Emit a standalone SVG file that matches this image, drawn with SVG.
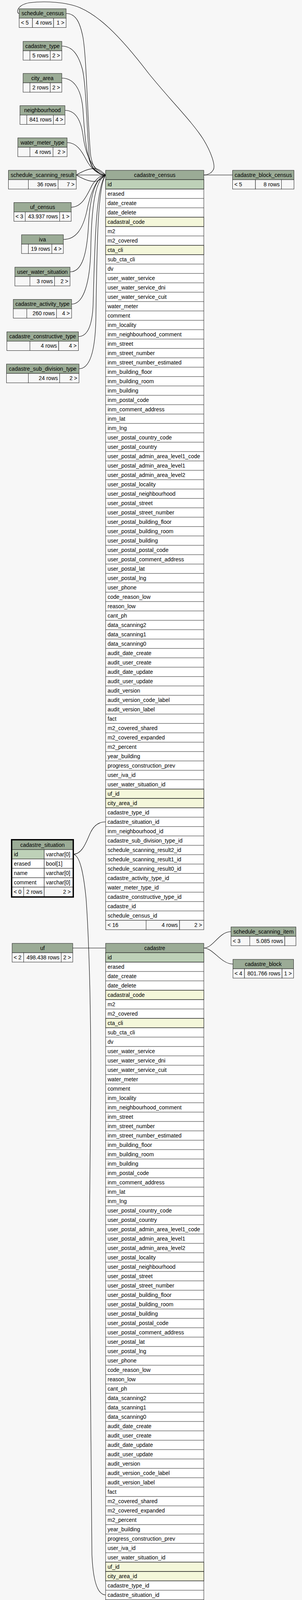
<svg xmlns="http://www.w3.org/2000/svg" width="772" height="4374" viewBox="0 0 772 4374">
<style>
.h{fill:#9bab96;stroke:#222;stroke-width:1}
.w{fill:#fff;stroke:#222;stroke-width:1}
.pk{fill:#bed1b8;stroke:#222;stroke-width:1}
.ix{fill:#f4f7da;stroke:#222;stroke-width:1}
.f{fill:#f7f7f7;stroke:#222;stroke-width:1}
.sep{fill:none;stroke:#222;stroke-width:1}
.edge{fill:none;stroke:#000;stroke-width:1.1}
text{font-family:"Liberation Sans",Arial,Helvetica,sans-serif;font-size:14px;fill:#000}
.c{text-anchor:middle}
.e{text-anchor:end}
.cap{font-family:"Liberation Serif","Times New Roman",serif;font-size:18px}
</style>
<rect x="0" y="0" width="772" height="4374" fill="#f7f7f7"/>

<g id="connectors">
<path class="edge" d="M49,34.5 C41,34 42,13 75,7 C115,2 170,5 205,20 C250,40 300,83 380,188 C440,262 490,310 520,357 C540,390 552,425 545,435 C540,444 530,448 521,448"/>
<path class="edge" d="M169,34.5 C195,34.5 205,60 212,95 C222,150 224,330 232,400 C238,435 255,448 270,448"/>
<path class="edge" d="M158,118 C185,118 200,140 210,175 C220,210 222,330 228,400 C232,432 252,448 270,448"/>
<path class="edge" d="M158,200 C190,200 208,230 212,280 C216,340 220,400 236,428 C246,442 258,448 270,448"/>
<path class="edge" d="M166,282.5 C195,282.5 207,310 212,345 C218,390 230,430 270,448"/>
<path class="edge" d="M171.5,365 C195,365 208,385 220,408 C233,433 252,448 270,448"/>
<path class="edge" d="M195,448 L270,448"/>
<path class="edge" d="M195,448 C215,436 232,430 246,432 C257,434 264,443 270,448"/>
<path class="edge" d="M195,448 C215,460 232,466 246,464 C257,462 264,453 270,448"/>
<path class="edge" d="M182,530.5 C210,530.5 222,500 235,475 C245,458 258,448 270,448"/>
<path class="edge" d="M162,613 C195,613 212,585 222,540 C230,500 245,455 270,448"/>
<path class="edge" d="M179,696 C210,696 222,650 226,580 C230,500 245,455 270,448"/>
<path class="edge" d="M183,778.5 C215,778.5 230,720 232,640 C234,520 245,458 270,448"/>
<path class="edge" d="M200.5,861.5 C225,861.5 236,830 238,780 C242,640 244,480 270,448"/>
<path class="edge" d="M202,944 C230,944 243,900 245,820 C248,650 248,480 270,448"/>
<path class="edge" d="M521,448 L594.5,448"/>
<path class="edge" d="M187,2187 C212,2187 222,2150 232,2130 C242,2110 255,2104 270,2104"/>
<path class="edge" d="M187,2187 C205,2189 214,2240 220,2300 C226,2380 232,2550 232,2720 C232,2900 228,3100 229,3200 C230,3500 233,3850 235,3980 C238,4050 250,4083 270,4083"/>
<path class="edge" d="M186,2427 L270,2427"/>
<path class="edge" d="M521,2427 C545,2427 560,2385 590.5,2385"/>
<path class="edge" d="M521,2427 C545,2427 565,2468 595.5,2468"/>
</g>

<g id="schedule_census">
<rect class="h" x="49" y="22.5" width="120" height="24"/>
<text class="c" x="109" y="39">schedule_census</text>
<rect class="f" x="49" y="46.5" width="34" height="24"/>
<rect class="f" x="83" y="46.5" width="54" height="24"/>
<rect class="f" x="137" y="46.5" width="32" height="24"/>
<text x="53.5" y="63">&lt; 5</text>
<text class="e" x="132.5" y="63">4 rows</text>
<text class="e" x="164.5" y="63">1 &gt;</text>
</g>

<g id="cadastre_type">
<rect class="h" x="59" y="106" width="99" height="24"/>
<text class="c" x="108.5" y="122.5">cadastre_type</text>
<rect class="f" x="59" y="130" width="17.5" height="24"/>
<rect class="f" x="76.5" y="130" width="52" height="24"/>
<rect class="f" x="128.5" y="130" width="29.5" height="24"/>
<text class="e" x="124" y="146.5">5 rows</text>
<text class="e" x="153.5" y="146.5">2 &gt;</text>
</g>

<g id="city_area">
<rect class="h" x="59" y="188" width="99" height="24"/>
<text class="c" x="108.5" y="204.5">city_area</text>
<rect class="f" x="59" y="212" width="17.5" height="24"/>
<rect class="f" x="76.5" y="212" width="52" height="24"/>
<rect class="f" x="128.5" y="212" width="29.5" height="24"/>
<text class="e" x="124" y="228.5">2 rows</text>
<text class="e" x="153.5" y="228.5">2 &gt;</text>
</g>

<g id="neighbourhood">
<rect class="h" x="51" y="270.5" width="115" height="24"/>
<text class="c" x="108.5" y="287">neighbourhood</text>
<rect class="f" x="51" y="294.5" width="17.5" height="24"/>
<rect class="f" x="68.5" y="294.5" width="68" height="24"/>
<rect class="f" x="136.5" y="294.5" width="29.5" height="24"/>
<text class="e" x="132" y="311">841 rows</text>
<text class="e" x="161.5" y="311">4 &gt;</text>
</g>

<g id="water_meter_type">
<rect class="h" x="45.5" y="353" width="126" height="24"/>
<text class="c" x="108.5" y="369.5">water_meter_type</text>
<rect class="f" x="45.5" y="377" width="31" height="24"/>
<rect class="f" x="76.5" y="377" width="59" height="24"/>
<rect class="f" x="135.5" y="377" width="36" height="24"/>
<text class="e" x="130.5" y="393.5">4 rows</text>
<text class="e" x="167" y="393.5">2 &gt;</text>
</g>

<g id="schedule_scanning_result">
<rect class="h" x="21.5" y="436" width="173.5" height="24"/>
<text class="c" x="108.25" y="452.5">schedule_scanning_result</text>
<rect class="f" x="21.5" y="460" width="51" height="24"/>
<rect class="f" x="72.5" y="460" width="76" height="24"/>
<rect class="f" x="148.5" y="460" width="46.5" height="24"/>
<text class="e" x="144" y="476.5">36 rows</text>
<text class="e" x="190.5" y="476.5">7 &gt;</text>
</g>

<g id="uf_census">
<rect class="h" x="35.5" y="518.5" width="146.5" height="24"/>
<text class="c" x="108.75" y="535">uf_census</text>
<rect class="f" x="35.5" y="542.5" width="29" height="24"/>
<rect class="f" x="64.5" y="542.5" width="88" height="24"/>
<rect class="f" x="152.5" y="542.5" width="29.5" height="24"/>
<text x="39.5" y="559">&lt; 3</text>
<text class="e" x="148" y="559">43.937 rows</text>
<text class="e" x="177.5" y="559">1 &gt;</text>
</g>

<g id="iva">
<rect class="h" x="55" y="601" width="107" height="24"/>
<text class="c" x="108.5" y="617.5">iva</text>
<rect class="f" x="55" y="625" width="17.5" height="24"/>
<rect class="f" x="72.5" y="625" width="60" height="24"/>
<rect class="f" x="132.5" y="625" width="29.5" height="24"/>
<text class="e" x="128" y="641.5">19 rows</text>
<text class="e" x="157.5" y="641.5">4 &gt;</text>
</g>

<g id="user_water_situation">
<rect class="h" x="38" y="684" width="141" height="24"/>
<text class="c" x="108.5" y="700.5">user_water_situation</text>
<rect class="f" x="38" y="708" width="38.5" height="24"/>
<rect class="f" x="76.5" y="708" width="63" height="24"/>
<rect class="f" x="139.5" y="708" width="39.5" height="24"/>
<text class="e" x="135" y="724.5">3 rows</text>
<text class="e" x="174.5" y="724.5">2 &gt;</text>
</g>

<g id="cadastre_activity_type">
<rect class="h" x="34" y="766.5" width="149" height="24"/>
<text class="c" x="108.5" y="783">cadastre_activity_type</text>
<rect class="f" x="34" y="790.5" width="34.5" height="24"/>
<rect class="f" x="68.5" y="790.5" width="76" height="24"/>
<rect class="f" x="144.5" y="790.5" width="38.5" height="24"/>
<text class="e" x="140" y="807">260 rows</text>
<text class="e" x="178.5" y="807">4 &gt;</text>
</g>

<g id="cadastre_constructive_type">
<rect class="h" x="17.5" y="849.5" width="183" height="24"/>
<text class="c" x="109" y="866">cadastre_constructive_type</text>
<rect class="f" x="17.5" y="873.5" width="59" height="24"/>
<rect class="f" x="76.5" y="873.5" width="73.5" height="24"/>
<rect class="f" x="150" y="873.5" width="50.5" height="24"/>
<text class="e" x="145.5" y="890">4 rows</text>
<text class="e" x="196" y="890">4 &gt;</text>
</g>

<g id="cadastre_sub_division_type">
<rect class="h" x="16.5" y="932" width="185.5" height="24"/>
<text class="c" x="109.25" y="948.5">cadastre_sub_division_type</text>
<rect class="f" x="16.5" y="956" width="56" height="24"/>
<rect class="f" x="72.5" y="956" width="80" height="24"/>
<rect class="f" x="152.5" y="956" width="49.5" height="24"/>
<text class="e" x="148" y="972.5">24 rows</text>
<text class="e" x="197.5" y="972.5">2 &gt;</text>
</g>

<g id="cadastre_block_census">
<rect class="h" x="594.5" y="436" width="157" height="24"/>
<text class="c" x="673" y="452.5">cadastre_block_census</text>
<rect class="f" x="594.5" y="460" width="58.5" height="24"/>
<rect class="f" x="653" y="460" width="66.5" height="24"/>
<rect class="f" x="719.5" y="460" width="32" height="24"/>
<text x="599" y="476.5">&lt; 5</text>
<text class="e" x="715" y="476.5">8 rows</text>
</g>

<g id="cadastre_census">
<rect class="h" x="270" y="436" width="251" height="24"/>
<text class="c" x="395.5" y="452.5">cadastre_census</text>
<rect class="w" x="270" y="460" width="251" height="1896"/>
<rect class="pk" x="270" y="460" width="251" height="24"/>
<rect class="ix" x="270" y="556" width="251" height="24"/>
<rect class="ix" x="270" y="628" width="251" height="24"/>
<rect class="ix" x="270" y="2020" width="251" height="24"/>
<rect class="ix" x="270" y="2044" width="251" height="24"/>
<path class="sep" d="M270 484H521M270 508H521M270 532H521M270 556H521M270 580H521M270 604H521M270 628H521M270 652H521M270 676H521M270 700H521M270 724H521M270 748H521M270 772H521M270 796H521M270 820H521M270 844H521M270 868H521M270 892H521M270 916H521M270 940H521M270 964H521M270 988H521M270 1012H521M270 1036H521M270 1060H521M270 1084H521M270 1108H521M270 1132H521M270 1156H521M270 1180H521M270 1204H521M270 1228H521M270 1252H521M270 1276H521M270 1300H521M270 1324H521M270 1348H521M270 1372H521M270 1396H521M270 1420H521M270 1444H521M270 1468H521M270 1492H521M270 1516H521M270 1540H521M270 1564H521M270 1588H521M270 1612H521M270 1636H521M270 1660H521M270 1684H521M270 1708H521M270 1732H521M270 1756H521M270 1780H521M270 1804H521M270 1828H521M270 1852H521M270 1876H521M270 1900H521M270 1924H521M270 1948H521M270 1972H521M270 1996H521M270 2020H521M270 2044H521M270 2068H521M270 2092H521M270 2116H521M270 2140H521M270 2164H521M270 2188H521M270 2212H521M270 2236H521M270 2260H521M270 2284H521M270 2308H521M270 2332H521"/>
<text x="275" y="476.5">id</text>
<text x="275" y="500.5">erased</text>
<text x="275" y="524.5">date_create</text>
<text x="275" y="548.5">date_delete</text>
<text x="275" y="572.5">cadastral_code</text>
<text x="275" y="596.5">m2</text>
<text x="275" y="620.5">m2_covered</text>
<text x="275" y="644.5">cta_cli</text>
<text x="275" y="668.5">sub_cta_cli</text>
<text x="275" y="692.5">dv</text>
<text x="275" y="716.5">user_water_service</text>
<text x="275" y="740.5">user_water_service_dni</text>
<text x="275" y="764.5">user_water_service_cuit</text>
<text x="275" y="788.5">water_meter</text>
<text x="275" y="812.5">comment</text>
<text x="275" y="836.5">inm_locality</text>
<text x="275" y="860.5">inm_neighbourhood_comment</text>
<text x="275" y="884.5">inm_street</text>
<text x="275" y="908.5">inm_street_number</text>
<text x="275" y="932.5">inm_street_number_estimated</text>
<text x="275" y="956.5">inm_building_floor</text>
<text x="275" y="980.5">inm_building_room</text>
<text x="275" y="1004.5">inm_building</text>
<text x="275" y="1028.5">inm_postal_code</text>
<text x="275" y="1052.5">inm_comment_address</text>
<text x="275" y="1076.5">inm_lat</text>
<text x="275" y="1100.5">inm_lng</text>
<text x="275" y="1124.5">user_postal_country_code</text>
<text x="275" y="1148.5">user_postal_country</text>
<text x="275" y="1172.5">user_postal_admin_area_level1_code</text>
<text x="275" y="1196.5">user_postal_admin_area_level1</text>
<text x="275" y="1220.5">user_postal_admin_area_level2</text>
<text x="275" y="1244.5">user_postal_locality</text>
<text x="275" y="1268.5">user_postal_neighbourhood</text>
<text x="275" y="1292.5">user_postal_street</text>
<text x="275" y="1316.5">user_postal_street_number</text>
<text x="275" y="1340.5">user_postal_building_floor</text>
<text x="275" y="1364.5">user_postal_building_room</text>
<text x="275" y="1388.5">user_postal_building</text>
<text x="275" y="1412.5">user_postal_postal_code</text>
<text x="275" y="1436.5">user_postal_comment_address</text>
<text x="275" y="1460.5">user_postal_lat</text>
<text x="275" y="1484.5">user_postal_lng</text>
<text x="275" y="1508.5">user_phone</text>
<text x="275" y="1532.5">code_reason_low</text>
<text x="275" y="1556.5">reason_low</text>
<text x="275" y="1580.5">cant_ph</text>
<text x="275" y="1604.5">data_scanning2</text>
<text x="275" y="1628.5">data_scanning1</text>
<text x="275" y="1652.5">data_scanning0</text>
<text x="275" y="1676.5">audit_date_create</text>
<text x="275" y="1700.5">audit_user_create</text>
<text x="275" y="1724.5">audit_date_update</text>
<text x="275" y="1748.5">audit_user_update</text>
<text x="275" y="1772.5">audit_version</text>
<text x="275" y="1796.5">audit_version_code_label</text>
<text x="275" y="1820.5">audit_version_label</text>
<text x="275" y="1844.5">fact</text>
<text x="275" y="1868.5">m2_covered_shared</text>
<text x="275" y="1892.5">m2_covered_expanded</text>
<text x="275" y="1916.5">m2_percent</text>
<text x="275" y="1940.5">year_building</text>
<text x="275" y="1964.5">progress_construction_prev</text>
<text x="275" y="1988.5">user_iva_id</text>
<text x="275" y="2012.5">user_water_situation_id</text>
<text x="275" y="2036.5">uf_id</text>
<text x="275" y="2060.5">city_area_id</text>
<text x="275" y="2084.5">cadastre_type_id</text>
<text x="275" y="2108.5">cadastre_situation_id</text>
<text x="275" y="2132.5">inm_neighbourhood_id</text>
<text x="275" y="2156.5">cadastre_sub_division_type_id</text>
<text x="275" y="2180.5">schedule_scanning_result2_id</text>
<text x="275" y="2204.5">schedule_scanning_result1_id</text>
<text x="275" y="2228.5">schedule_scanning_result0_id</text>
<text x="275" y="2252.5">cadastre_activity_type_id</text>
<text x="275" y="2276.5">water_meter_type_id</text>
<text x="275" y="2300.5">cadastre_constructive_type_id</text>
<text x="275" y="2324.5">cadastre_id</text>
<text x="275" y="2348.5">schedule_census_id</text>
<rect class="f" x="270" y="2356" width="103.5" height="24"/>
<rect class="f" x="373.5" y="2356" width="85.5" height="24"/>
<rect class="f" x="459" y="2356" width="62" height="24"/>
<text x="275" y="2372.5">&lt; 16</text>
<text class="e" x="454.5" y="2372.5">4 rows</text>
<text class="e" x="516.5" y="2372.5">2 &gt;</text>
</g>

<g id="cadastre_situation">
<rect class="h" x="31" y="2151" width="155" height="24"/>
<text class="c" x="108.5" y="2167.5">cadastre_situation</text>
<rect class="pk" x="31" y="2175" width="82" height="24"/>
<rect class="w" x="113" y="2175" width="73" height="24"/>
<rect class="w" x="31" y="2199" width="82" height="24"/>
<rect class="w" x="113" y="2199" width="73" height="24"/>
<rect class="w" x="31" y="2223" width="82" height="24"/>
<rect class="w" x="113" y="2223" width="73" height="24"/>
<rect class="w" x="31" y="2247" width="82" height="24"/>
<rect class="w" x="113" y="2247" width="73" height="24"/>
<rect class="f" x="31" y="2271" width="29.5" height="24"/>
<rect class="f" x="60.5" y="2271" width="52.5" height="24"/>
<rect class="f" x="113" y="2271" width="73" height="24"/>
<text x="35.5" y="2191.5">id</text>
<text x="117.5" y="2191.5">varchar[0]</text>
<text x="35.5" y="2215.5">erased</text>
<text x="117.5" y="2215.5">bool[1]</text>
<text x="35.5" y="2239.5">name</text>
<text x="117.5" y="2239.5">varchar[0]</text>
<text x="35.5" y="2263.5">comment</text>
<text x="117.5" y="2263.5">varchar[0]</text>
<text x="35" y="2287.5">&lt; 0</text>
<text class="e" x="108.5" y="2287.5">2 rows</text>
<text class="e" x="181" y="2287.5">2 &gt;</text>
<rect x="29.5" y="2149.5" width="158" height="147" fill="none" stroke="#000" stroke-width="3"/>
</g>

<g id="uf">
<rect class="h" x="31" y="2415" width="155" height="24"/>
<text class="c" x="108.5" y="2431.5">uf</text>
<rect class="f" x="31" y="2439" width="29.5" height="24"/>
<rect class="f" x="60.5" y="2439" width="96" height="24"/>
<rect class="f" x="156.5" y="2439" width="29.5" height="24"/>
<text x="35" y="2455.5">&lt; 2</text>
<text class="e" x="152" y="2455.5">498.438 rows</text>
<text class="e" x="181.5" y="2455.5">2 &gt;</text>
</g>

<g id="schedule_scanning_item">
<rect class="h" x="590.5" y="2373" width="166" height="24"/>
<text class="c" x="673.5" y="2389.5">schedule_scanning_item</text>
<rect class="f" x="590.5" y="2397" width="48" height="24"/>
<rect class="f" x="638.5" y="2397" width="89.5" height="24"/>
<rect class="f" x="728" y="2397" width="28.5" height="24"/>
<text x="595" y="2413.5">&lt; 3</text>
<text class="e" x="723.5" y="2413.5">5.085 rows</text>
</g>

<g id="cadastre_block">
<rect class="h" x="595.5" y="2456" width="155" height="24"/>
<text class="c" x="673" y="2472.5">cadastre_block</text>
<rect class="f" x="595.5" y="2480" width="29.5" height="24"/>
<rect class="f" x="625" y="2480" width="96" height="24"/>
<rect class="f" x="721" y="2480" width="29.5" height="24"/>
<text x="599.5" y="2496.5">&lt; 4</text>
<text class="e" x="716.5" y="2496.5">801.766 rows</text>
<text class="e" x="746" y="2496.5">1 &gt;</text>
</g>

<g id="cadastre">
<rect class="h" x="270" y="2415" width="251" height="24"/>
<text class="c" x="395.5" y="2431.5">cadastre</text>
<rect class="w" x="270" y="2439" width="251" height="1848"/>
<rect class="pk" x="270" y="2439" width="251" height="24"/>
<rect class="ix" x="270" y="2535" width="251" height="24"/>
<rect class="ix" x="270" y="2607" width="251" height="24"/>
<rect class="ix" x="270" y="3999" width="251" height="24"/>
<rect class="ix" x="270" y="4023" width="251" height="24"/>
<path class="sep" d="M270 2463H521M270 2487H521M270 2511H521M270 2535H521M270 2559H521M270 2583H521M270 2607H521M270 2631H521M270 2655H521M270 2679H521M270 2703H521M270 2727H521M270 2751H521M270 2775H521M270 2799H521M270 2823H521M270 2847H521M270 2871H521M270 2895H521M270 2919H521M270 2943H521M270 2967H521M270 2991H521M270 3015H521M270 3039H521M270 3063H521M270 3087H521M270 3111H521M270 3135H521M270 3159H521M270 3183H521M270 3207H521M270 3231H521M270 3255H521M270 3279H521M270 3303H521M270 3327H521M270 3351H521M270 3375H521M270 3399H521M270 3423H521M270 3447H521M270 3471H521M270 3495H521M270 3519H521M270 3543H521M270 3567H521M270 3591H521M270 3615H521M270 3639H521M270 3663H521M270 3687H521M270 3711H521M270 3735H521M270 3759H521M270 3783H521M270 3807H521M270 3831H521M270 3855H521M270 3879H521M270 3903H521M270 3927H521M270 3951H521M270 3975H521M270 3999H521M270 4023H521M270 4047H521M270 4071H521M270 4095H521M270 4119H521M270 4143H521M270 4167H521M270 4191H521M270 4215H521M270 4239H521M270 4263H521"/>
<text x="275" y="2455.5">id</text>
<text x="275" y="2479.5">erased</text>
<text x="275" y="2503.5">date_create</text>
<text x="275" y="2527.5">date_delete</text>
<text x="275" y="2551.5">cadastral_code</text>
<text x="275" y="2575.5">m2</text>
<text x="275" y="2599.5">m2_covered</text>
<text x="275" y="2623.5">cta_cli</text>
<text x="275" y="2647.5">sub_cta_cli</text>
<text x="275" y="2671.5">dv</text>
<text x="275" y="2695.5">user_water_service</text>
<text x="275" y="2719.5">user_water_service_dni</text>
<text x="275" y="2743.5">user_water_service_cuit</text>
<text x="275" y="2767.5">water_meter</text>
<text x="275" y="2791.5">comment</text>
<text x="275" y="2815.5">inm_locality</text>
<text x="275" y="2839.5">inm_neighbourhood_comment</text>
<text x="275" y="2863.5">inm_street</text>
<text x="275" y="2887.5">inm_street_number</text>
<text x="275" y="2911.5">inm_street_number_estimated</text>
<text x="275" y="2935.5">inm_building_floor</text>
<text x="275" y="2959.5">inm_building_room</text>
<text x="275" y="2983.5">inm_building</text>
<text x="275" y="3007.5">inm_postal_code</text>
<text x="275" y="3031.5">inm_comment_address</text>
<text x="275" y="3055.5">inm_lat</text>
<text x="275" y="3079.5">inm_lng</text>
<text x="275" y="3103.5">user_postal_country_code</text>
<text x="275" y="3127.5">user_postal_country</text>
<text x="275" y="3151.5">user_postal_admin_area_level1_code</text>
<text x="275" y="3175.5">user_postal_admin_area_level1</text>
<text x="275" y="3199.5">user_postal_admin_area_level2</text>
<text x="275" y="3223.5">user_postal_locality</text>
<text x="275" y="3247.5">user_postal_neighbourhood</text>
<text x="275" y="3271.5">user_postal_street</text>
<text x="275" y="3295.5">user_postal_street_number</text>
<text x="275" y="3319.5">user_postal_building_floor</text>
<text x="275" y="3343.5">user_postal_building_room</text>
<text x="275" y="3367.5">user_postal_building</text>
<text x="275" y="3391.5">user_postal_postal_code</text>
<text x="275" y="3415.5">user_postal_comment_address</text>
<text x="275" y="3439.5">user_postal_lat</text>
<text x="275" y="3463.5">user_postal_lng</text>
<text x="275" y="3487.5">user_phone</text>
<text x="275" y="3511.5">code_reason_low</text>
<text x="275" y="3535.5">reason_low</text>
<text x="275" y="3559.5">cant_ph</text>
<text x="275" y="3583.5">data_scanning2</text>
<text x="275" y="3607.5">data_scanning1</text>
<text x="275" y="3631.5">data_scanning0</text>
<text x="275" y="3655.5">audit_date_create</text>
<text x="275" y="3679.5">audit_user_create</text>
<text x="275" y="3703.5">audit_date_update</text>
<text x="275" y="3727.5">audit_user_update</text>
<text x="275" y="3751.5">audit_version</text>
<text x="275" y="3775.5">audit_version_code_label</text>
<text x="275" y="3799.5">audit_version_label</text>
<text x="275" y="3823.5">fact</text>
<text x="275" y="3847.5">m2_covered_shared</text>
<text x="275" y="3871.5">m2_covered_expanded</text>
<text x="275" y="3895.5">m2_percent</text>
<text x="275" y="3919.5">year_building</text>
<text x="275" y="3943.5">progress_construction_prev</text>
<text x="275" y="3967.5">user_iva_id</text>
<text x="275" y="3991.5">user_water_situation_id</text>
<text x="275" y="4015.5">uf_id</text>
<text x="275" y="4039.5">city_area_id</text>
<text x="275" y="4063.5">cadastre_type_id</text>
<text x="275" y="4087.5">cadastre_situation_id</text>
<text x="275" y="4111.5">inm_neighbourhood_id</text>
<text x="275" y="4135.5">cadastre_sub_division_type_id</text>
<text x="275" y="4159.5">schedule_scanning_result2_id</text>
<text x="275" y="4183.5">schedule_scanning_result1_id</text>
<text x="275" y="4207.5">schedule_scanning_result0_id</text>
<text x="275" y="4231.5">cadastre_activity_type_id</text>
<text x="275" y="4255.5">water_meter_type_id</text>
<text x="275" y="4279.5">cadastre_constructive_type_id</text>
<rect class="f" x="270" y="4287" width="81.5" height="24"/>
<rect class="f" x="351.5" y="4287" width="118" height="24"/>
<rect class="f" x="469.5" y="4287" width="51.5" height="24"/>
<text x="275" y="4303.5">&lt; 14</text>
<text class="e" x="465" y="4303.5">532.086 rows</text>
<text class="e" x="516.5" y="4303.5">3 &gt;</text>
</g>

<text class="cap" x="15.5" y="4358">Generated by SchemaSpy</text>
</svg>
